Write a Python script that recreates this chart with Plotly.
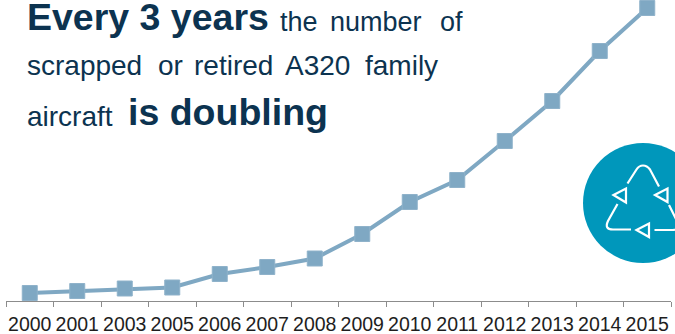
import plotly.graph_objects as go

years = ["2000", "2001", "2003", "2005", "2006", "2007", "2008",
         "2009", "2010", "2011", "2012", "2013", "2014", "2015"]
retired = [8, 10, 12.5, 13.5, 27, 34, 42.5, 67, 99, 121, 160, 200, 250, 293]

W, H = 675, 334
LEFT, RIGHT, BOTTOM = 6, 671, 301
NAVY = "#0c3350"
TEAL = "#0097bb"
STEEL = "#7fa8c3"


def px(x):
    return (x - LEFT) / (RIGHT - LEFT)


def py(y):
    return (BOTTOM - y) / BOTTOM


def path(*cmds):
    # Each command is (letter, x, y, ...) in page pixels, converted to paper units
    parts = []
    for c in cmds:
        if c[0] == "Z":
            parts.append("Z")
            continue
        vals = []
        for i, v in enumerate(c[1:]):
            vals.append(f"{px(v) if i % 2 == 0 else py(v):.5f}")
        parts.append(c[0] + " " + " ".join(vals))
    return " ".join(parts)


def stroke_shape(d):
    return dict(type="path", xref="paper", yref="paper", path=d,
                line=dict(color="white", width=2.2), fillcolor="rgba(0,0,0,0)")


# Recycling badge: teal disc with three rounded arrows
shapes = [
    dict(type="circle", xref="paper", yref="paper",
         x0=px(583), x1=px(703), y0=py(263), y1=py(143),
         fillcolor=TEAL, line=dict(width=0)),
    stroke_shape(path(("M", 627.5, 183.5), ("L", 636.5, 169.5),
                      ("Q", 639, 165.5, 643, 165.5), ("Q", 647, 165.5, 650, 169.5),
                      ("L", 659, 186.5))),
    stroke_shape(path(("M", 617.5, 204), ("L", 608, 221),
                      ("Q", 604, 229.5, 613, 229.5), ("L", 631, 229.5))),
    stroke_shape(path(("M", 654.5, 230), ("L", 673, 230),
                      ("Q", 681, 229.5, 677, 221), ("L", 669, 205))),
    stroke_shape(path(("M", 613.5, 195), ("L", 626, 188.5), ("L", 626, 202.5), ("Z",))),
    stroke_shape(path(("M", 655, 195), ("L", 667.5, 188.5), ("L", 667.5, 202), ("Z",))),
    stroke_shape(path(("M", 636.5, 230), ("L", 649, 223.5), ("L", 649, 237), ("Z",))),
]


def line_note(text, x, bottom, size):
    return dict(text=text, xref="paper", yref="paper", x=px(x), y=py(bottom),
                xanchor="left", yanchor="bottom", showarrow=False, align="left",
                font=dict(family="Liberation Sans", color=NAVY, size=size),
                borderpad=0, borderwidth=0)


annotations = [
    line_note("<b>Every 3 years</b>", 27, 38, 37.5),
    line_note("the", 280, 37, 27),
    line_note("number", 330, 37, 27),
    line_note("of", 440, 37, 27),
    line_note("scrapped", 27, 81, 28),
    line_note("or", 158, 81, 28),
    line_note("retired", 194, 81, 28),
    line_note("A320", 285, 81, 28),
    line_note("family", 365, 81, 28),
    line_note("aircraft", 27, 132, 28),
    line_note("<b>is doubling</b>", 128, 133, 37.5),
]

fig = go.Figure(go.Scatter(
    x=years, y=retired, mode="lines+markers", cliponaxis=False,
    line=dict(color=STEEL, width=4),
    marker=dict(symbol="square", size=15, color=STEEL,
                line=dict(color="#8fb2ca", width=1)),
    hoverinfo="x+y",
))

fig.update_layout(
    width=W, height=H, autosize=False,
    margin=dict(l=LEFT, r=W - RIGHT, t=0, b=H - BOTTOM, pad=0),
    paper_bgcolor="white", plot_bgcolor="white",
    showlegend=False, shapes=shapes, annotations=annotations,
    xaxis=dict(type="category", tickson="boundaries", range=[-0.5, 13.5],
               showgrid=False, showline=True, linecolor="#8c8c8c", linewidth=1.3,
               ticks="outside", ticklen=5, tickwidth=1.3, tickcolor="#8c8c8c",
               tickangle=0, ticklabelstandoff=5,
               tickfont=dict(family="Liberation Sans", size=19.5, color="#1e1e1e")),
    yaxis=dict(range=[0, BOTTOM], visible=False, fixedrange=True),
)

fig.write_html("out.html")
